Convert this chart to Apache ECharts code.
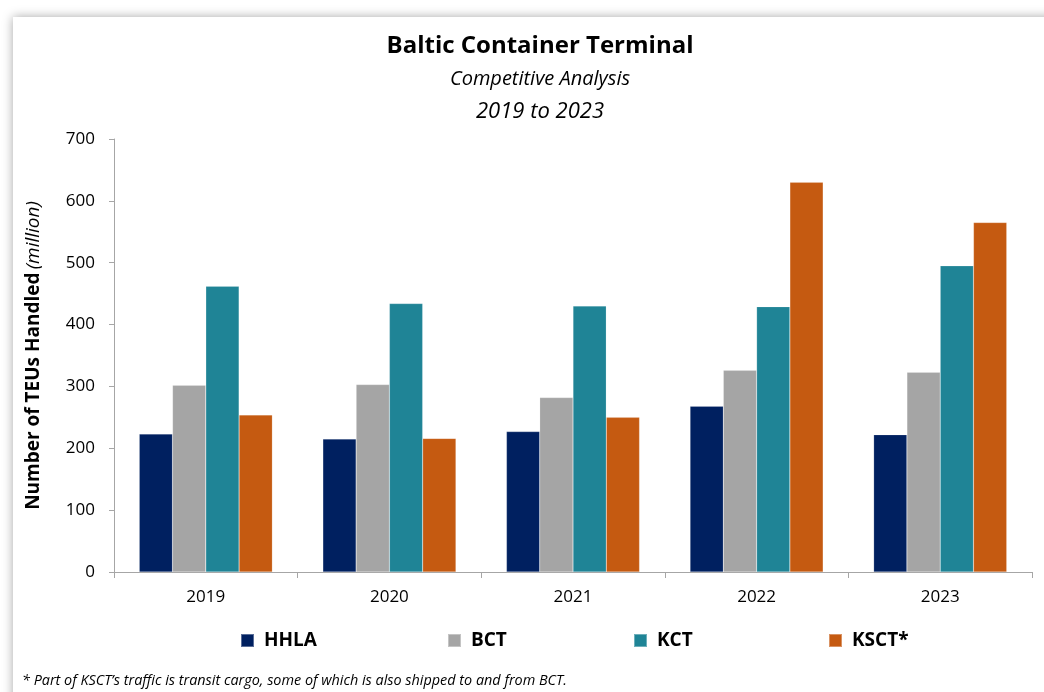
<!DOCTYPE html>
<html>
<head>
<meta charset="utf-8">
<style>html,body{margin:0;padding:0;background:#fff;}#chart{width:1044px;height:692px;}</style>
<script src="https://cdn.jsdelivr.net/npm/echarts@6/dist/echarts.min.js"></script>
</head>
<body>
<div id="chart"></div>
<script>
const categories = ['2019', '2020', '2021', '2022', '2023'];
const hhla = [223, 215, 227, 268, 222];
const bct = [302, 303, 282, 326, 323];
const kct = [462, 434, 430, 429, 495];
const ksct = [254, 216, 250, 630, 565];
const seriesNames = ['HHLA', 'BCT', 'KCT', 'KSCT*'];
const colors = ['#002060', '#A5A5A5', '#1F8496', '#C55A11'];
const yTicks = [0, 100, 200, 300, 400, 500, 600, 700];

const FONT = 'Open Sans';
const chart = echarts.init(document.getElementById('chart'));
const legendX = [240, 447, 633, 828];
const dataSets = [hhla, bct, kct, ksct];

chart.setOption({
  animation: false,
  textStyle: { fontFamily: FONT },
  graphic: [
    { type: 'rect', z: -10, silent: true,
      shape: { x: 13, y: 17, width: 1100, height: 800 },
      style: { fill: '#fff', shadowBlur: 10, shadowColor: 'rgba(0,0,0,0.35)' } },
    { type: 'text', left: 22, top: 674,
      style: { text: '* Part of KSCT\u2019s traffic is transit cargo, some of which is also shipped to and from BCT.',
        font: 'italic 14.4px "Open Sans"', fill: '#000' } }
  ],
  title: [
    { text: 'Baltic Container Terminal', left: 535, textAlign: 'center', top: 29,
      textStyle: { fontFamily: FONT, fontWeight: 'bold', fontSize: 24, color: '#000' } },
    { text: 'Competitive Analysis', left: 535, textAlign: 'center', top: 64,
      textStyle: { fontFamily: FONT, fontStyle: 'italic', fontWeight: 'normal', fontSize: 20, color: '#000' } },
    { text: '2019 to 2023', left: 535, textAlign: 'center', top: 96,
      textStyle: { fontFamily: FONT, fontStyle: 'italic', fontWeight: 'normal', fontSize: 22, color: '#000' } }
  ],
  legend: seriesNames.map((n, i) => ({
    data: [n], left: legendX[i], top: 631, icon: 'rect', itemWidth: 13, itemHeight: 13, itemGap: 0,
    textStyle: { fontFamily: FONT, fontWeight: 'bold', fontSize: 19, color: '#000', padding: [0, 0, 0, 5] },
    padding: 0
  })),
  grid: { left: 114, right: 12, top: 139, bottom: 120, containLabel: false },
  xAxis: {
    type: 'category', data: categories, boundaryGap: true,
    axisLine: { lineStyle: { color: '#A6A6A6' } },
    axisTick: { show: true, length: 6, interval: 0, alignWithLabel: false, lineStyle: { color: '#A6A6A6' } },
    axisLabel: { margin: 17, fontSize: 17, color: '#000', fontFamily: FONT }
  },
  yAxis: {
    type: 'value', min: 0, max: 700, interval: 100,
    name: '{b|Number of TEUs Handled} {i|(million)}',
    nameLocation: 'middle', nameGap: 71, nameRotate: 90,
    nameTextStyle: { rich: {
      b: { fontFamily: FONT, fontWeight: 'bold', fontSize: 19, color: '#000' },
      i: { fontFamily: FONT, fontStyle: 'italic', fontSize: 19, color: '#000' } } },
    axisLine: { show: true, lineStyle: { color: '#A6A6A6' } },
    axisTick: { show: true, length: 5, lineStyle: { color: '#A6A6A6' } },
    splitLine: { show: false },
    axisLabel: { margin: 19, fontSize: 17, color: '#000', fontFamily: FONT,
      formatter: v => yTicks.includes(v) ? String(v) : '' }
  },
  series: seriesNames.map((n, i) => ({
    name: n, type: 'bar', data: dataSets[i], barGap: '0%', barCategoryGap: '27.5%',
    itemStyle: { color: colors[i], borderColor: 'rgba(255,255,255,0.35)', borderWidth: 0.5 }
  }))
});
</script>
</body>
</html>
